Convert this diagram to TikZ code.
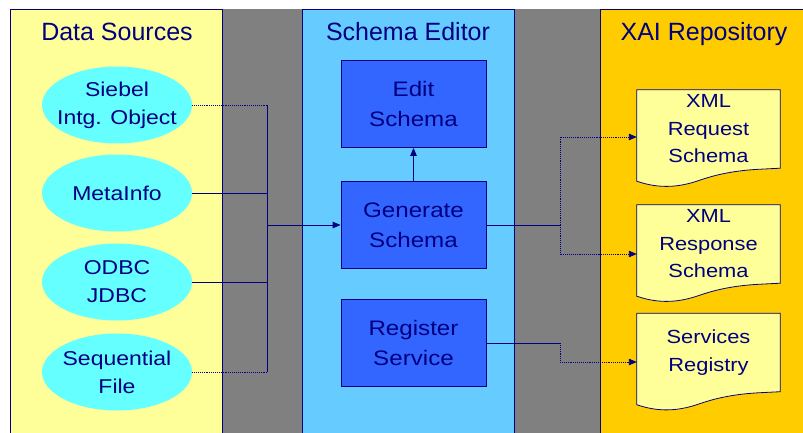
\documentclass[tikz,border=0pt]{standalone}
\usepackage{fontspec}
\setmainfont{Liberation Sans}
\newfontfamily\boxfont[FakeStretch=1.15]{Liberation Sans}
\usepackage{tikz}
\usepackage{xcolor}
\usetikzlibrary{
  positioning, arrows.meta, shapes.geometric, calc, backgrounds,
}
\definecolor{cNavy}     {HTML}{000080}
\definecolor{cSource}   {HTML}{FFFF99}
\definecolor{cOval}     {HTML}{66FFFF}
\definecolor{cGap}      {HTML}{808080}
\definecolor{cEditor}   {HTML}{66CCFF}
\definecolor{cTask}     {HTML}{3366FF}
\definecolor{cRepo}     {HTML}{FFCC00}

\begin{document}
\begin{tikzpicture}[x=1pt, y=-1pt,
    panel/.style={draw=cNavy, line width=0.8pt},
    title/.style={font=\fontsize{25}{30}\selectfont, text=cNavy, anchor=base},
    source/.style={ellipse, fill=cOval, minimum width=150pt, minimum height=77pt,
      inner xsep=-14pt, inner ysep=0pt, align=center, text=cNavy,
      font={\boxfont\fontsize{20}{28}\selectfont}},
    taskbox/.style={rectangle, draw=cNavy, fill=cTask, line width=0.8pt,
      minimum width=145pt, minimum height=87pt, inner sep=0pt, align=center,
      text=cNavy, font={\boxfont\fontsize{21}{30}\selectfont}},
    docbox/.style={rectangle, minimum width=143pt, minimum height=78pt, inner sep=0pt,
      align=center, text=cNavy, font={\boxfont\fontsize{19}{27.5}\selectfont}},
    link/.style={draw=cNavy, line width=0.9pt},
    faint/.style={link, densely dotted},
    tip/.style={-{Triangle[length=8pt, width=6.5pt]}},
  ]
  \useasboundingbox (0,0) rectangle (803,432);

  % the three lanes and the gaps between them
  \begin{scope}[on background layer]
    \fill[white] (0,0) rectangle (803,432);
    \fill[cGap] (222,9) rectangle (302,434);
    \fill[cGap] (514,9) rectangle (600,434);
    \draw[panel, fill=cSource] (10,9) rectangle (222,436);
    \draw[panel, fill=cEditor] (302,9) rectangle (514,436);
    \draw[panel, fill=cRepo] (600,9) rectangle (806,436);
  \end{scope}

  \node[title] (tsrc)  at (117,40) {Data Sources};
  \node[title] (tedit) at (408,40) {Schema Editor};
  \node[title] (trepo) at (704,40) {XAI Repository};

  % data sources
  \node[source] (siebel) at (117,105) {Siebel\\Intg. Object};
  \node[source] (meta)   at (117,193) {MetaInfo};
  \node[source] (odbc)   at (117,282) {ODBC\\JDBC};
  \node[source] (seq)    at (117,372) {Sequential\\File};

  % schema editor tasks
  \node[taskbox] (edit) at (413.5,104) {Edit\\Schema};
  \node[taskbox] (gen)  at (413.5,225) {Generate\\Schema};
  \node[taskbox] (reg)  at (413.5,343) {Register\\Service};

  % repository documents (wavy bottom drawn below)
  \node[docbox] (req)  at (708.5,129)   {XML\\Request\\Schema};
  \node[docbox] (resp) at (708.5,244)   {XML\\Response\\Schema};
  \node[docbox] (svc)  at (708.5,352.5) {Services\\Registry};
  \begin{scope}[on background layer]
    \foreach \d in {req,resp,svc}{
      \draw[cNavy, fill=cSource, line width=0.8pt]
        (\d.south west) -- (\d.north west) -- (\d.north east) -- (\d.south east)
        -- ($(\d.south east)+(-20,1)$)
        .. controls ($(\d.south west)+(103,2)$) and ($(\d.south west)+(83,5)$)
        .. ($(\d.south west)+(63,12)$)
        .. controls ($(\d.south west)+(43,19)$) and ($(\d.south west)+(23,21)$)
        .. ($(\d.south west)+(0,13)$) -- cycle;
    }
  \end{scope}

  % bus lines
  \coordinate (lbus) at (267,0);
  \coordinate (rbus) at (560,0);
  \coordinate (reqin)  at ([yshift=-8pt]req.west);
  \coordinate (respin) at ([yshift=-10pt]resp.west);
  \coordinate (svcin)  at ([yshift=-9.5pt]svc.west);

  \draw[faint] (siebel.east) -- (lbus |- siebel.east);
  \draw[link]  (meta.east) -- (lbus |- meta.east);
  \draw[link]  (odbc.east) -- (lbus |- odbc.east);
  \draw[faint] (seq.east) -- (lbus |- seq.east);
  \draw[link]  (lbus |- siebel.east) -- (lbus |- seq.east);
  \draw[link, tip] (lbus |- gen.west) -- (gen.west);

  \draw[link, tip] (gen.north) -- (edit.south);

  \draw[link]  (gen.east) -- (rbus |- gen.east);
  \draw[faint, tip] (rbus |- gen.east) -- (rbus |- reqin) -- (reqin);
  \draw[faint, tip] (rbus |- gen.east) -- (rbus |- respin) -- (respin);
  \draw[link]  (reg.east) -- (rbus |- reg.east);
  \draw[faint, tip] (rbus |- reg.east) -- (rbus |- svcin) -- (svcin);
\end{tikzpicture}
\end{document}
